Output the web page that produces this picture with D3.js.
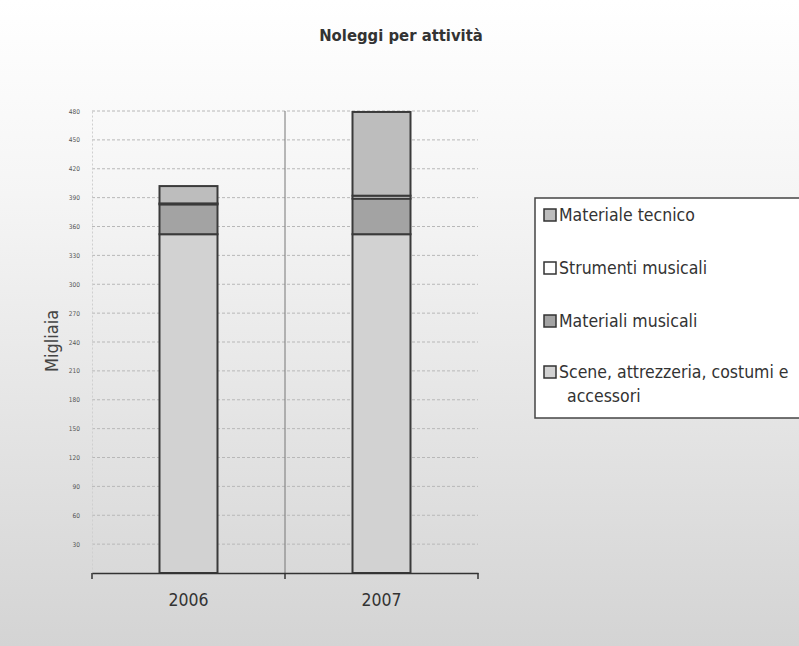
<!DOCTYPE html>
<html><head><meta charset="utf-8">
<script src="https://cdn.jsdelivr.net/npm/d3@7"></script>
<style>html,body{margin:0;padding:0;background:#fff}svg{display:block}</style>
</head><body>
<svg id="chart" width="799" height="646"></svg>
<script>
const years = ["2006", "2007"];
const seriesNames = ["Scene, attrezzeria, costumi e accessori", "Materiali musicali", "Strumenti musicali", "Materiale tecnico"];
const scene = [352, 352];
const materialiMusicali = [31, 37];
const strumentiMusicali = [1, 3];
const materialeTecnico = [18, 87];
const yTicks = [30, 60, 90, 120, 150, 180, 210, 240, 270, 300, 330, 360, 390, 420, 450, 480];
const colors = ["#d2d2d2", "#a3a3a3", "#ffffff", "#bdbdbd"];
const legendOrder = [3, 2, 1, 0];

const FONT = "DejaVu Sans Condensed, DejaVu Sans";
const svg = d3.select("#chart");
const W = 799, H = 646;
const defs = svg.append("defs");
const g1 = defs.append("linearGradient").attr("id", "bg").attr("x1", 0).attr("y1", 0).attr("x2", 0).attr("y2", 1);
g1.append("stop").attr("offset", "0").attr("stop-color", "#ffffff");
g1.append("stop").attr("offset", "0.3").attr("stop-color", "#f5f5f5");
g1.append("stop").attr("offset", "0.7").attr("stop-color", "#e2e2e2");
g1.append("stop").attr("offset", "1").attr("stop-color", "#d4d4d4");
svg.append("rect").attr("width", W).attr("height", H).attr("fill", "url(#bg)");

const margin = {left: 92, right: 321, top: 111, bottom: 73};
const x0 = margin.left, x1 = W - margin.right, yTop = margin.top, yBase = H - margin.bottom;

const x = d3.scaleBand().domain(years).range([x0, x1]).paddingInner(0).paddingOuter(0);
const y = d3.scaleLinear().domain([0, 480]).range([yBase, yTop]);

// gridlines
svg.append("g").selectAll("line").data(yTicks).join("line")
  .attr("x1", x0).attr("x2", x1)
  .attr("y1", d => y(d)).attr("y2", d => y(d))
  .attr("stroke", "#b8b8b8").attr("stroke-width", 1).attr("stroke-dasharray", "3,2");

// y axis
const yAxis = d3.axisLeft(y).tickValues(yTicks).tickSize(0).tickPadding(12);
const ya = svg.append("g").attr("transform", `translate(${x0},0)`).call(yAxis);
ya.select(".domain").attr("stroke", "#cfcfcf").attr("stroke-dasharray", "2,2");
ya.selectAll("text").attr("font-family", FONT).attr("font-size", 6.5).attr("fill", "#555");

// category divider
svg.append("line").attr("x1", x("2007")).attr("x2", x("2007")).attr("y1", yTop).attr("y2", yBase)
  .attr("stroke", "#777").attr("stroke-width", 1);

// stacked bars
const rows = years.map((yr, i) => ({year: yr, v: [scene[i], materialiMusicali[i], strumentiMusicali[i], materialeTecnico[i]]}));
const barW = 58;
rows.forEach(r => {
  let acc = 0;
  const cx = x(r.year) + x.bandwidth() / 2;
  r.v.forEach((val, k) => {
    svg.append("rect")
      .attr("x", cx - barW / 2).attr("width", barW)
      .attr("y", y(acc + val)).attr("height", y(acc) - y(acc + val))
      .attr("fill", colors[k]).attr("stroke", "#3a3a3a").attr("stroke-width", 2);
    acc += val;
  });
});

// x axis
const xa = svg.append("g").attr("transform", `translate(0,${yBase})`)
  .call(d3.axisBottom(x).tickSize(0).tickPadding(21));
xa.select(".domain").attr("stroke", "#333").attr("stroke-width", 1.5);
xa.selectAll("text").attr("font-family", FONT).attr("font-size", 17.5).attr("fill", "#333");
svg.append("g").selectAll("line").data([x0, x("2007"), x1]).join("line")
  .attr("x1", d => d).attr("x2", d => d).attr("y1", yBase).attr("y2", yBase + 6)
  .attr("stroke", "#333").attr("stroke-width", 1.5);

// title
svg.append("text").attr("x", 401).attr("y", 41).attr("text-anchor", "middle")
  .attr("font-family", FONT).attr("font-weight", "bold")
  .attr("font-size", 16.5).attr("fill", "#333").text("Noleggi per attività");

// y label
svg.append("text").attr("transform", "translate(58,341) rotate(-90)").attr("text-anchor", "middle")
  .attr("font-family", FONT).attr("font-size", 18).attr("fill", "#444").text("Migliaia");

// legend
const lg = svg.append("g");
lg.append("rect").attr("x", 535).attr("y", 198).attr("width", 280).attr("height", 220)
  .attr("fill", "#fff").attr("stroke", "#444").attr("stroke-width", 1.5);
const legY = [221, 274, 327, 378];
legendOrder.forEach((k, i) => {
  lg.append("rect").attr("x", 544).attr("y", legY[i] - 12).attr("width", 12).attr("height", 12)
    .attr("fill", colors[k]).attr("stroke", "#333").attr("stroke-width", 1.5);
  const t = lg.append("text").attr("x", 559).attr("y", legY[i])
    .attr("font-family", FONT).attr("font-size", 17.5).attr("fill", "#333");
  if (k === 0) {
    t.append("tspan").attr("x", 559).text("Scene, attrezzeria, costumi e");
    t.append("tspan").attr("x", 567).attr("dy", 24).text("accessori");
  } else {
    t.text(seriesNames[k]);
  }
});
</script>
</body></html>
